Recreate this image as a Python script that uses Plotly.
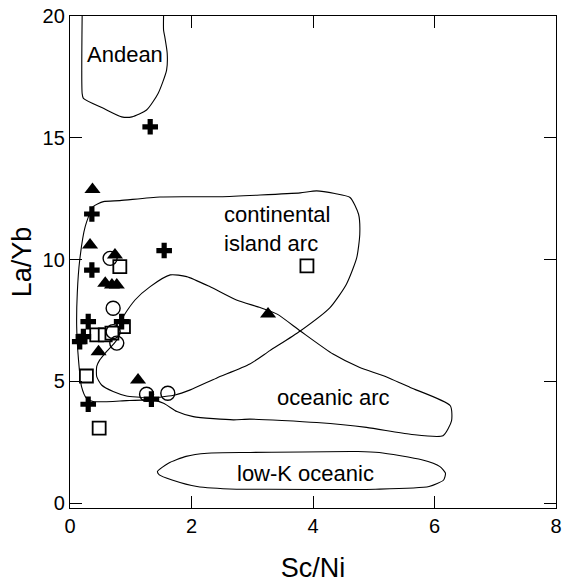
import plotly.graph_objects as go

# ---- data points (Sc/Ni, La/Yb) ----
plus_x = [1.32, 0.36, 0.36, 1.55, 0.30, 0.85, 0.22, 0.16, 1.34, 0.30]
plus_y = [15.45, 11.87, 9.57, 10.37, 7.45, 7.45, 6.84, 6.63, 4.27, 4.06]

tri_x = [0.37, 0.33, 0.74, 0.58, 0.69, 0.77, 0.47, 1.12, 3.26]
tri_y = [12.88, 10.60, 10.19, 9.03, 8.96, 8.96, 6.22, 5.06, 7.76]

circ_x = [0.66, 0.71, 0.71, 0.77, 1.26, 1.61]
circ_y = [10.05, 8.00, 7.04, 6.57, 4.47, 4.51]

sq_x = [0.82, 0.88, 0.44, 0.58, 0.69, 0.27, 0.48, 3.90]
sq_y = [9.71, 7.25, 6.91, 6.91, 6.98, 5.22, 3.08, 9.74]

# ---- field outlines ----
andean_x = [0.20, 0.20, 0.22, 0.55, 0.85, 1.02, 1.26, 1.45, 1.59, 1.60, 1.56, 1.54, 1.54]
andean_y = [20.0, 16.82, 16.62, 16.21, 15.86, 15.86, 16.14, 16.82, 17.78, 18.47, 19.15, 19.42, 20.0]

cont_x = [0.38, 0.55, 0.82, 1.48, 2.47, 3.13, 3.79, 4.06, 4.36, 4.61, 4.75, 4.77, 4.72,
          4.55, 4.28, 3.79, 3.29, 2.96, 2.41, 1.98, 1.73, 1.48, 1.21, 0.93, 0.38, 0.27,
          0.19, 0.14, 0.11, 0.12, 0.16, 0.25, 0.38]
cont_y = [12.17, 12.38, 12.42, 12.57, 12.58, 12.65, 12.74, 12.82, 12.71, 12.55, 11.86,
          11.04, 10.08, 8.99, 8.03, 7.07, 6.26, 5.71, 5.13, 4.65, 4.44, 4.35, 4.24, 4.21,
          4.17, 4.31, 4.78, 5.88, 7.25, 8.63, 9.98, 11.35, 12.17]

ocean_x = [0.88, 1.07, 1.32, 1.65, 1.92, 2.30, 2.74, 3.13, 3.41, 3.79, 4.33, 4.77, 5.16,
           5.60, 6.26, 6.28, 6.14, 5.60, 4.88, 4.06, 2.96, 2.69, 2.03, 1.76, 1.54, 1.26,
           0.93, 0.71, 0.52, 0.44, 0.44, 0.49, 0.60, 0.77, 0.88]
ocean_y = [7.66, 8.34, 8.89, 9.37, 9.30, 8.89, 8.34, 8.03, 7.76, 7.07, 6.12, 5.57, 5.23,
           4.75, 4.00, 3.38, 2.77, 2.83, 3.11, 3.31, 3.45, 3.42, 3.55, 3.76, 4.10, 4.31,
           4.40, 4.58, 4.85, 5.19, 5.61, 5.88, 6.22, 6.70, 7.66]

lowk_x = [1.44, 1.62, 1.91, 2.26, 2.97, 4.74, 5.09, 5.79, 6.09, 6.18, 6.15, 5.91, 5.03,
          2.97, 2.74, 2.09, 1.68, 1.47, 1.44]
lowk_y = [1.30, 1.64, 1.92, 2.05, 2.08, 2.12, 2.08, 1.78, 1.50, 1.23, 0.95, 0.68, 0.57,
          0.57, 0.57, 0.68, 0.95, 1.16, 1.30]

field_labels = ["Andean", "continental<br>island arc", "oceanic arc", "low-K oceanic"]
label_x = [0.91, 2.50, 4.33, 3.88]
label_y = [18.4, 11.26, 4.35, 1.23]
label_anchor = ["center", "left", "center", "center"]

x_ticks = [0, 2, 4, 6, 8]
y_ticks = [0, 5, 10, 15, 20]

FONT = "Liberation Sans, Arial, sans-serif"

fig = go.Figure()

for xs, ys in [(andean_x, andean_y), (cont_x, cont_y), (ocean_x, ocean_y), (lowk_x, lowk_y)]:
    fig.add_trace(go.Scatter(x=xs, y=ys, mode="lines",
                             line=dict(color="black", width=1.1, shape="spline", smoothing=0.6),
                             hoverinfo="skip", showlegend=False))

fig.add_trace(go.Scatter(x=sq_x, y=sq_y, mode="markers", showlegend=False,
                         marker=dict(symbol="square", size=13, color="white",
                                     line=dict(color="black", width=1.8))))
fig.add_trace(go.Scatter(x=circ_x, y=circ_y, mode="markers", showlegend=False,
                         marker=dict(symbol="circle-open", size=14, color="black",
                                     line=dict(color="black", width=1.4))))
fig.add_trace(go.Scatter(x=tri_x, y=tri_y, mode="markers", showlegend=False,
                         marker=dict(symbol="triangle-up", size=14, color="black",
                                     line=dict(width=0))))
fig.add_trace(go.Scatter(x=plus_x, y=plus_y, mode="markers", showlegend=False,
                         marker=dict(symbol="cross", size=13, color="black",
                                     line=dict(width=0))))

for t, lx, ly, anc in zip(field_labels, label_x, label_y, label_anchor):
    fig.add_annotation(x=lx, y=ly, text=t, showarrow=False, xanchor=anc, align=anc,
                       font=dict(family=FONT, size=22, color="black"))

axis_common = dict(showgrid=False, zeroline=False, showline=True, linecolor="black",
                   linewidth=1.3, mirror="allticks", ticks="inside", ticklen=12,
                   tickwidth=1.1, tickcolor="black", automargin=False,
                   ticklabeloverflow="allow",
                   tickfont=dict(family=FONT, size=20, color="black"))

fig.update_xaxes(range=[0, 8], tickvals=x_ticks, ticktext=[str(v) for v in x_ticks],
                 title=dict(text="Sc/Ni", font=dict(family=FONT, size=27, color="black"),
                            standoff=21),
                 **axis_common)
fig.update_yaxes(range=[-0.2, 20], tickvals=y_ticks, ticktext=[str(v) for v in y_ticks],
                 title=dict(text="La/Yb", font=dict(family=FONT, size=27, color="black"),
                            standoff=3),
                 **axis_common)

fig.update_layout(width=562, height=584, plot_bgcolor="white", paper_bgcolor="white",
                  margin=dict(l=70, r=6, t=16, b=76), showlegend=False)

# remove the browser's default 8px page margin so the figure fills the window exactly
fig.write_html("out.html", config={"displayModeBar": False},
               post_script="document.body.style.margin='0';document.body.style.overflow='hidden';")
